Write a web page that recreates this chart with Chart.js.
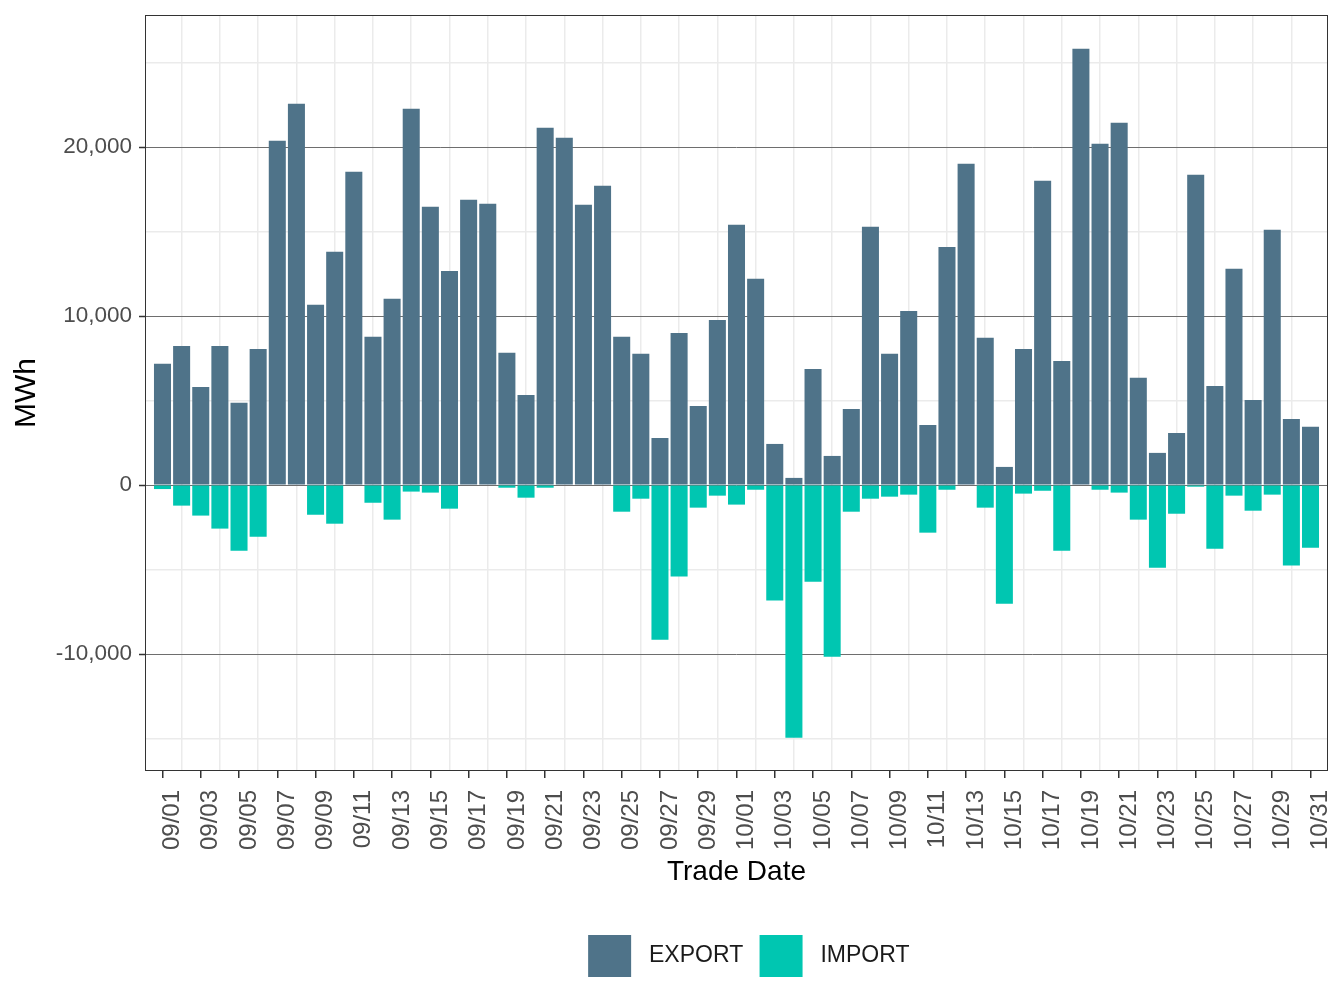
<!DOCTYPE html>
<html>
<head>
<meta charset="utf-8">
<script src="https://cdn.jsdelivr.net/npm/chart.js@4"></script>
<style>
  html, body { margin: 0; padding: 0; background: #ffffff; }
  #wrap { width: 1344px; height: 1008px; }
</style>
</head>
<body>
<div id="wrap"><canvas id="c" width="1344" height="1008"></canvas></div>
<script>
const tradeDates = [
  "09/01","09/02","09/03","09/04","09/05","09/06","09/07","09/08","09/09","09/10",
  "09/11","09/12","09/13","09/14","09/15","09/16","09/17","09/18","09/19","09/20",
  "09/21","09/22","09/23","09/24","09/25","09/26","09/27","09/28","09/29","09/30",
  "10/01","10/02","10/03","10/04","10/05","10/06","10/07","10/08","10/09","10/10",
  "10/11","10/12","10/13","10/14","10/15","10/16","10/17","10/18","10/19","10/20",
  "10/21","10/22","10/23","10/24","10/25","10/26","10/27","10/28","10/29","10/30",
  "10/31"
];
const exportMWh = [
  7170, 8230, 5800, 8230, 4860, 8050, 20370, 22560, 10660, 13800,
  18540, 8770, 11020, 22270, 16460, 12670, 16880, 16640, 7820, 5330,
  21140, 20550, 16580, 17710, 8770, 7760, 2780, 9000, 4680, 9770,
  15400, 12200, 2430, 420, 6870, 1720, 4500, 15280, 7760, 10300,
  3550, 14090, 19010, 8710, 1070, 8050, 18000, 7340, 25820, 20190,
  21440, 6340, 1900, 3080, 18360, 5860, 12790, 5030, 15100, 3910,
  3440
];
const importMWh = [
  -240, -1220, -1810, -2580, -3890, -3060, -30, 0, -1760, -2290,
  0, -1050, -2050, -390, -450, -1400, -30, -30, -160, -750,
  -160, -30, -30, 0, -1580, -810, -9150, -5420, -1340, -630,
  -1160, -280, -6840, -14950, -5720, -10160, -1580, -810, -690, -570,
  -2820, -280, -30, -1340, -7020, -510, -340, -3890, 0, -280,
  -450, -2050, -4890, -1700, -100, -3770, -630, -1520, -570, -4770,
  -3710
];
const yGridValues = [-15000, -10000, -5000, 0, 5000, 10000, 15000, 20000, 25000];
const yTickValues = [-10000, 0, 10000, 20000];
const xExpand = 0.914; // discrete-axis expansion, in category units

const FONT = "'Liberation Sans', Arial, Helvetica, sans-serif";

const panelBorder = {
  id: 'panelBorder',
  afterLayout(chart) {
    const x = chart.scales.x;
    x._startValue = -xExpand;
    x._valueRange = (tradeDates.length - 1) + 2 * xExpand;
    if (chart.legend) { chart.legend.left += 88; chart.legend.right += 88; }
  },
  afterDraw(chart) {
    const a = chart.chartArea, ctx = chart.ctx;
    ctx.save();
    ctx.strokeStyle = '#333333';
    ctx.lineWidth = 1;
    ctx.strokeRect(Math.round(a.left) + 0.5, Math.round(a.top) + 0.5,
                   Math.round(a.right - a.left) - 1, Math.round(a.bottom - a.top) - 1);
    ctx.restore();
  }
};

new Chart(document.getElementById('c'), {
  type: 'bar',
  data: {
    labels: tradeDates,
    datasets: [
      { label: 'EXPORT', data: exportMWh, backgroundColor: '#4f7389', stack: 's' },
      { label: 'IMPORT', data: importMWh, backgroundColor: '#00c6b1', stack: 's' }
    ]
  },
  options: {
    responsive: false,
    animation: false,
    devicePixelRatio: 1,
    layout: { padding: { left: 0, right: 16, top: 15, bottom: 21 } },
    datasets: { bar: { barPercentage: 0.89, categoryPercentage: 1.0, borderWidth: 0 } },
    plugins: {
      legend: {
        position: 'bottom',
        labels: {
          boxWidth: 43, boxHeight: 42, padding: 10,
          color: '#1a1a1a',
          font: { family: FONT, size: 23 },
          generateLabels(chart) {
            const items = Chart.defaults.plugins.legend.labels.generateLabels(chart);
            items.forEach(it => { it.text = ' ' + it.text + ' '; });
            return items;
          }
        }
      },
      tooltip: { enabled: false }
    },
    scales: {
      x: {
        stacked: true,
        afterFit(s) { s.height = 154; s.paddingLeft = 0; s.paddingRight = 0; },
        border: { display: false },
        grid: {
          offset: false,
          drawTicks: true,
          tickLength: 7,
          lineWidth: 1.5,
          color: (c) => (c.index % 2 === 1 ? '#ebebeb' : 'rgba(0,0,0,0)'),
          tickColor: (c) => (c.index % 2 === 0 ? '#333333' : 'rgba(0,0,0,0)'),
          tickWidth: 1.5
        },
        ticks: {
          autoSkip: false,
          maxRotation: 90,
          minRotation: 90,
          padding: 12,
          labelOffset: 10,
          color: '#4d4d4d',
          font: { family: FONT, size: 24 },
          callback: (v, i) => (i % 2 === 0 ? tradeDates[i] : '')
        },
        title: {
          display: true,
          text: 'Trade Date',
          color: '#000000',
          font: { family: FONT, size: 28 },
          padding: { top: 0, bottom: 36 }
        }
      },
      y: {
        stacked: true,
        min: -16923,
        max: 27811,
        afterBuildTicks(s) { s.ticks = yGridValues.map(v => ({ value: v })); },
        afterFit(s) { s.width = 145; s.paddingTop = 0; s.paddingBottom = 0; },
        border: { display: false },
        grid: {
          drawTicks: true,
          tickLength: 6,
          color: (c) => (yTickValues.includes(c.tick.value) ? '#6e6e6e' : '#ebebeb'),
          lineWidth: (c) => (yTickValues.includes(c.tick.value) ? 1 : 1.5),
          tickColor: (c) => (yTickValues.includes(c.tick.value) ? '#333333' : 'rgba(0,0,0,0)'),
          tickWidth: 1.5
        },
        ticks: {
          padding: 7,
          color: '#4d4d4d',
          font: { family: FONT, size: 22.5 },
          callback: (v) => (yTickValues.includes(v) ? v.toLocaleString('en-US') : '')
        },
        title: {
          display: true,
          text: 'MWh',
          color: '#000000',
          font: { family: FONT, size: 30 },
          padding: { top: 9, bottom: 0 }
        }
      }
    }
  },
  plugins: [panelBorder]
});
</script>
</body>
</html>
